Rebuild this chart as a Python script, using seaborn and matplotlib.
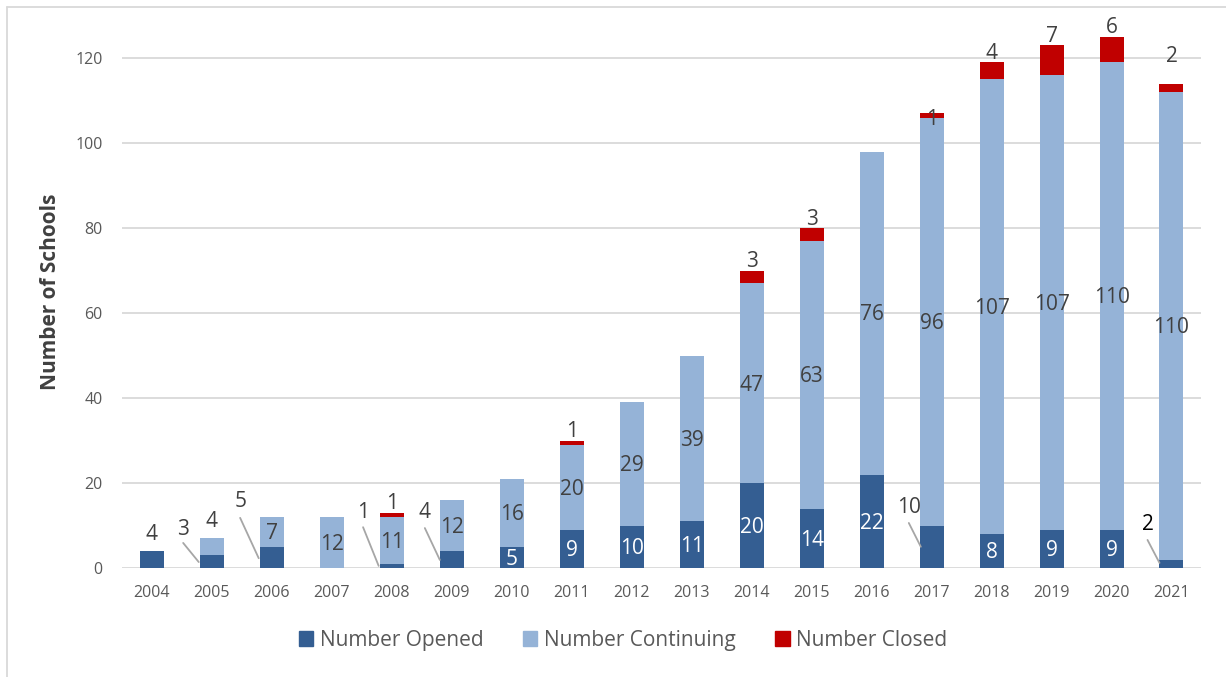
import matplotlib.pyplot as plt
import pandas as pd
import seaborn as sns
from matplotlib.patches import Patch
from matplotlib.lines import Line2D

# data
years = [str(y) for y in range(2004, 2022)]
opened = [4, 3, 5, 0, 1, 4, 5, 9, 10, 11, 20, 14, 22, 10, 8, 9, 9, 2]
continuing = [0, 4, 7, 12, 11, 12, 16, 20, 29, 39, 47, 63, 76, 96, 107, 107, 110, 110]
closed = [0, 0, 0, 0, 1, 0, 0, 1, 0, 0, 3, 3, 0, 1, 4, 7, 6, 2]

# opened labels placed beside the bar with a leader line:
# year -> (text x offset, text centre y, line start y, line end x offset, line end y)
leader = {
    "2005": (-0.48, 9.6, 5.9, -0.22, 1.4),
    "2006": (-0.53, 16.0, 11.8, -0.22, 2.3),
    "2008": (-0.48, 13.6, 9.6, -0.22, 0.5),
    "2009": (-0.45, 13.6, 9.4, -0.20, 1.9),
    "2017": (-0.38, 14.8, 10.6, -0.18, 5.0),
    "2021": (-0.40, 10.8, 6.6, -0.20, 1.2),
}

c_open = "#345E92"
c_cont = "#95B3D7"
c_close = "#C00000"
txt = "#404040"
fs = 15
half = 1.75  # half a digit height in data units

df = pd.DataFrame({"year": years, "opened": opened,
                   "continuing": continuing, "closed": closed})
df["open_cont"] = df["opened"] + df["continuing"]
df["total"] = df["open_cont"] + df["closed"]

sns.set_style("white")
plt.rcParams["font.family"] = ["Open Sans", "DejaVu Sans"]

fig = plt.figure(figsize=(12.26, 6.77), dpi=100)
ax = fig.add_axes([0.0995, 0.161, 0.8805, 0.816])

# layered stacking: totals first, smaller sums on top
sns.barplot(data=df, x="year", y="total", color=c_close, width=0.4,
            linewidth=0, saturation=1, ax=ax, zorder=3)
sns.barplot(data=df, x="year", y="open_cont", color=c_cont, width=0.4,
            linewidth=0, saturation=1, ax=ax, zorder=3)
sns.barplot(data=df, x="year", y="opened", color=c_open, width=0.4,
            linewidth=0, saturation=1, ax=ax, zorder=3)

ax.set_ylim(0, 130)
ax.set_xlim(-0.5, len(years) - 0.5)
ax.set_yticks(range(0, 121, 20))
ax.yaxis.grid(True, color="#D9D9D9", linewidth=1.3, zorder=0)
ax.set_axisbelow(True)
for s in ax.spines.values():
    s.set_visible(False)
ax.tick_params(axis="both", length=0, labelsize=11.5, labelcolor="#595959")
ax.tick_params(axis="x", pad=12)
ax.tick_params(axis="y", pad=14)
ax.set_xlabel("")
ax.set_ylabel("Number of Schools", fontsize=15, fontweight="bold",
              color=txt, labelpad=10)

# value labels (baseline placed so the digits are centred where wanted)
for i, r in df.iterrows():
    y = r["year"]
    if r["opened"] > 0:
        if y in leader:
            dx, ty, ly0, ex, ey = leader[y]
            col = "black" if y == "2021" else txt
            ax.text(i + dx, ty - half, str(r["opened"]), ha="center",
                    va="baseline", fontsize=fs, color=col)
            ax.add_line(Line2D([i + dx, i + ex], [ly0, ey],
                               color="#A6A6A6", linewidth=1.3, zorder=4))
        elif y == "2004":
            ax.text(i, r["opened"] + 2.6, str(r["opened"]), ha="center",
                    va="baseline", fontsize=fs, color=txt)
        else:
            ax.text(i, r["opened"] / 2 - half, str(r["opened"]), ha="center",
                    va="baseline", fontsize=fs, color="white", zorder=5)
    if r["continuing"] > 0:
        if r["continuing"] < 5:
            ty = r["open_cont"] + 2.6
        else:
            ty = r["opened"] + r["continuing"] / 2 - half
        ax.text(i, ty, str(r["continuing"]), ha="center", va="baseline",
                fontsize=fs, color=txt, zorder=5)
    if r["closed"] > 0:
        ty = r["total"] + 0.8
        if y == "2017":
            ty = r["total"] - 2.7
        if y == "2021":
            ty = r["total"] + 5.0
        ax.text(i, ty, str(r["closed"]), ha="center", va="baseline",
                fontsize=fs, color=txt, zorder=5)

handles = [Patch(color=c_open, label="Number Opened"),
           Patch(color=c_cont, label="Number Continuing"),
           Patch(color=c_close, label="Number Closed")]
fig.legend(handles=handles, loc="center", bbox_to_anchor=(0.508, 0.054), ncol=3,
           frameon=False, fontsize=15, handlelength=0.7, handleheight=0.7,
           handletextpad=0.3, columnspacing=1.9, labelcolor="#595959")

# chart frame (left and top edges are visible in the image)
fig.add_artist(Line2D([0.0057, 0.0057], [0, 0.99], transform=fig.transFigure,
                      color="#D9D9D9", linewidth=1.3))
fig.add_artist(Line2D([0.0057, 1.0], [0.99, 0.99], transform=fig.transFigure,
                      color="#D9D9D9", linewidth=1.3))

fig.savefig("out.png", dpi=100)
